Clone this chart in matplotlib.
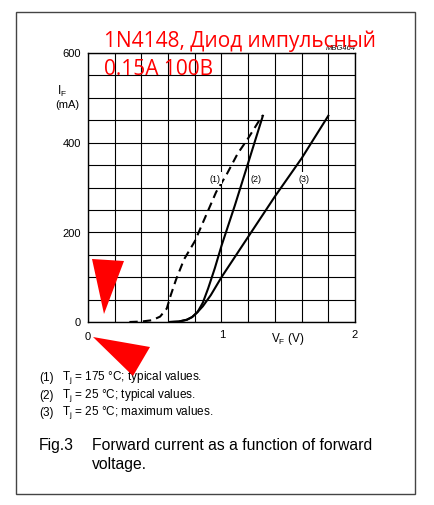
import numpy as np
import matplotlib.pyplot as plt
from matplotlib.patches import Polygon, Rectangle

# curve data (V in volts, I in mA)
v1 = [0.31, 0.40, 0.48, 0.54, 0.59, 0.62, 0.66, 0.72, 0.80, 0.88, 0.96, 1.04, 1.12, 1.20, 1.305]
i1 = [0, 1, 4, 12, 30, 60, 95, 140, 180, 235, 290, 330, 375, 410, 460]

v2 = [0.61, 0.68, 0.74, 0.78, 0.82, 0.86, 0.90, 0.95, 1.00, 1.10, 1.20, 1.31]
i2 = [0, 1, 5, 11, 22, 43, 75, 120, 170, 260, 355, 460]

v3 = [0.61, 0.68, 0.74, 0.78, 0.82, 0.86, 0.92, 1.00, 1.20, 1.40, 1.60, 1.80]
i3 = [0, 1, 5, 11, 22, 35, 60, 100, 190, 280, 365, 460]

curve_labels = ['(1)', '(2)', '(3)']
label_v = [0.955, 1.255, 1.62]
label_i = [321, 321, 321]

note_ids = ['(1)', '(2)', '(3)']
notes = ['T$_\\mathregular{j}$ = 175 °C; typical values.',
         'T$_\\mathregular{j}$ = 25 °C; typical values.',
         'T$_\\mathregular{j}$ = 25 °C; maximum values.']

W, H = 435, 506
fig = plt.figure(figsize=(W / 100, H / 100), dpi=100)
plt.rcParams['font.family'] = ['Liberation Sans', 'DejaVu Sans']

def fx(px):
    return px / W

def fy(py):
    return 1 - py / H

# outer frame
fig.patches.append(Rectangle((fx(16), fy(495)), fx(415) - fx(16), fy(13) - fy(495),
                             transform=fig.transFigure, fill=False,
                             edgecolor='#444444', linewidth=1.0))

ax = fig.add_axes([fx(88), fy(323), fx(355) - fx(88), fy(54) - fy(323)])
ax.set_xlim(0, 2)
ax.set_ylim(0, 600)
ax.set_xticks(np.arange(0, 2.01, 0.2), minor=True)
ax.set_yticks(np.arange(0, 601, 50), minor=True)
ax.set_xticks([])
ax.set_yticks([])
ax.grid(True, which='minor', color='black', linewidth=0.8)
ax.tick_params(which='both', length=0)
for s in ax.spines.values():
    s.set_linewidth(1.0)

ax.plot(v1, i1, color='black', lw=1.5, ls=(0, (4, 2.5)))
ax.plot(v2, i2, color='black', lw=1.5)
ax.plot(v3, i3, color='black', lw=1.5)

for lab, x, y in zip(curve_labels, label_v, label_i):
    ax.text(x, y, lab, fontsize=6.5, ha='center', va='center',
            bbox=dict(facecolor='white', edgecolor='none', pad=1.0))

# tick labels
for val, py in zip(['600', '400', '200', '0'], [54, 144, 234, 323]):
    fig.text(fx(81), fy(py), val, fontsize=8, ha='right', va='center')
fig.text(fx(88), fy(337), '0', fontsize=8, ha='center', va='center')
fig.text(fx(222), fy(335), '1', fontsize=8, ha='center', va='center')
fig.text(fx(355), fy(335), '2', fontsize=8, ha='center', va='center')

fig.text(fx(62), fy(91), 'I$_\\mathregular{F}$', fontsize=8.5, ha='center', va='center')
fig.text(fx(67), fy(105), '(mA)', fontsize=8, ha='center', va='center')
fig.text(fx(288), fy(339), 'V$_\\mathregular{F}$ (V)', fontsize=8.5, ha='center', va='center')
fig.text(fx(341), fy(48), 'MBG464', fontsize=5.5, style='italic', ha='center', va='center')

for k, (nid, t) in enumerate(zip(note_ids, notes)):
    fig.text(fx(39), fy(378 + 17.5 * k), nid, fontsize=8.5, ha='left', va='center')
    fig.text(fx(62), fy(378 + 17.5 * k), t, fontsize=8.5, ha='left', va='center')

fig.text(fx(39), fy(446), 'Fig.3', fontsize=11.3, ha='left', va='center')
fig.text(fx(92), fy(446), 'Forward current as a function of forward', fontsize=11.3, ha='left', va='center')
fig.text(fx(92), fy(465), 'voltage.', fontsize=11.3, ha='left', va='center')

# red overlay text and markers
fig.text(fx(104), fy(47), '1N4148, Диод импульсный', fontsize=15, color='red',
         family=['Open Sans', 'DejaVu Sans'], ha='left', va='baseline')
fig.text(fx(104), fy(75), '0.15A 100B', fontsize=15, color='red',
         family=['Open Sans', 'DejaVu Sans'], ha='left', va='baseline')

tri1 = [(92, 260), (124, 262), (104, 315)]
tri2 = [(93, 338), (150, 348), (133, 377)]
for tri in (tri1, tri2):
    fig.patches.append(Polygon([(fx(a), fy(b)) for a, b in tri], closed=True,
                               transform=fig.transFigure, facecolor='red',
                               edgecolor='none', zorder=10))

fig.savefig('out.png', dpi=100)
